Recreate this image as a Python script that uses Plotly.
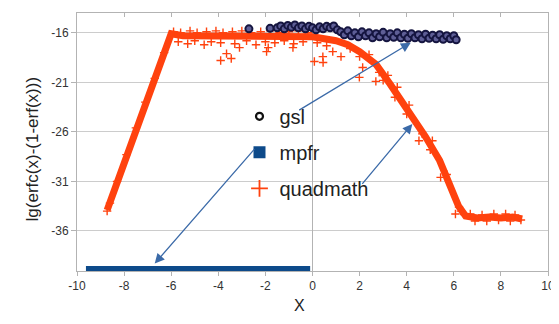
import plotly.graph_objects as go

# ---------------- data ----------------
# quadmath: centre line of the dense band of points
quad_band_x = [-8.72, -6.0, -5.5, -4.0, -2.0, 0.0, 1.0, 1.5, 2.0, 2.7, 3.3, 3.8, 4.25,
               4.8, 5.4, 5.9, 6.2, 6.5, 7.0, 7.5, 8.0, 8.5, 8.9]
quad_band_y = [-33.9, -16.1, -16.3, -16.35, -16.3, -16.4, -16.8, -17.2, -17.9, -19.2, -21.2,
               -22.9, -24.6, -26.5, -28.9, -31.8, -33.5, -34.5, -34.7, -34.6, -34.7, -34.6, -34.8]

# quadmath: individual scattered points
quad_x = [-8.72, -8.6, -8.3, -7.9, -7.5, -7.1, -6.7, -6.3,
          -5.9, -5.6, -5.2, -4.9, -4.5, -4.1, -3.8, -3.4, -3.0, -2.6, -2.2, -1.8, -1.4, -1.0, -0.6, -0.2,
          -5.7, -5.3, -5.0, -4.6, -4.3, -3.9, -3.3, -2.8, -2.4, -2.0, -1.6, -1.2, -0.8, -0.4, 0.2, 0.6,
          -3.9, -3.65, -3.45, -3.1, -1.95, -1.88, -0.83, 0.08, 0.44, 0.45, 0.86, 1.21,
          1.6, 2.0, 2.13, 1.99, 2.69, 2.83, 2.4, 3.0, 3.2, 3.5, 3.6, 4.0, 4.1, 4.52, 4.66, 5.09, 5.0,
          5.44, 5.7, 6.22, 6.07, 6.3,
          6.7, 6.9, 7.2, 7.4, 7.7, 7.9, 8.2, 8.4, 8.6, 8.85]
quad_y = [-34.0, -33.2, -31.0, -28.3, -25.6, -23.0, -20.6, -18.0,
          -15.9, -16.0, -15.8, -16.0, -15.9, -15.8, -16.0, -15.9, -15.8, -16.0, -15.9, -15.8, -16.0, -15.9, -15.8, -16.0,
          -16.9, -17.1, -16.8, -17.2, -16.9, -17.0, -17.1, -16.8, -17.2, -16.9, -17.0, -16.8, -17.1, -16.9, -17.0, -17.3,
          -18.8, -18.1, -18.6, -17.5, -17.9, -17.5, -17.5, -18.9, -18.4, -19.0, -17.9, -18.4,
          -17.6, -18.4, -19.5, -20.5, -20.9, -20.0, -18.2, -20.8, -20.3, -22.5, -21.5, -24.2, -23.3, -26.9, -26.2, -26.9, -27.8,
          -30.6, -30.3, -33.6, -34.3, -34.0,
          -34.3, -35.0, -34.4, -35.0, -34.3, -34.9, -34.3, -35.0, -34.4, -34.9]

# gsl
gsl_x = [-2.7, -1.8, -1.5, -1.35, -1.2, -1.05, -0.9, -0.75, -0.6, -0.45, -0.3, -0.15, 0.0,
         0.15, 0.3, 0.45, 0.6, 0.75, 0.9, 1.05, 1.2, 1.35, 1.5, 1.65, 1.8, 1.95, 2.1, 2.25,
         2.4, 2.55, 2.7, 2.85, 3.0, 3.15, 3.3, 3.45, 3.6, 3.75, 3.9, 4.05, 4.2, 4.35, 4.5,
         4.65, 4.8, 4.95, 5.1, 5.25, 5.4, 5.55, 5.7, 5.85, 6.0, 6.1]
gsl_y = [-15.6, -15.55, -15.5, -15.3, -15.6, -15.25, -15.45, -15.2, -15.5, -15.3, -15.6, -15.35, -15.5,
         -15.7, -15.4, -15.6, -15.35, -15.5, -15.3, -15.7, -15.9, -16.2, -15.8, -16.3, -16.0, -16.4, -15.9, -16.3,
         -16.0, -16.5, -16.1, -16.4, -15.95, -16.5, -16.1, -16.45, -16.0, -16.5, -16.15, -16.55, -16.1, -16.5, -16.2,
         -16.6, -16.15, -16.55, -16.25, -16.6, -16.2, -16.65, -16.3, -16.6, -16.3, -16.7]

# mpfr
mpfr_x = [-9.62, -8.0, -6.0, -4.0, -2.0, -0.1]
mpfr_y = [-39.8, -39.8, -39.8, -39.8, -39.8, -39.8]

x_ticks = [-10, -8, -6, -4, -2, 0, 2, 4, 6, 8, 10]
y_ticks = [-16, -21, -26, -31, -36]

QUAD = "#ff420e"
MPFR = "#0d4a8a"
ARROW = "#3b6aa8"
GRID = "#b3b3b3"

fig = go.Figure()

# dense bands
fig.add_trace(go.Scatter(x=quad_band_x, y=quad_band_y, mode="lines",
                         line=dict(color=QUAD, width=7), showlegend=False, hoverinfo="skip"))
fig.add_trace(go.Scatter(x=mpfr_x, y=mpfr_y, mode="lines",
                         line=dict(color=MPFR, width=5), showlegend=False, hoverinfo="skip"))

fig.add_trace(go.Scatter(x=quad_x, y=quad_y, mode="markers", showlegend=False,
                         marker=dict(symbol="cross-thin", size=6, line=dict(color=QUAD, width=1.4))))
fig.add_trace(go.Scatter(x=gsl_x, y=gsl_y, mode="markers", showlegend=False,
                         marker=dict(symbol="circle", size=7, color="#5e5e96",
                                     line=dict(color="#151540", width=2))))

# legend entries
fig.add_trace(go.Scatter(x=[None], y=[None], mode="markers", name="gsl", legendgroup="a",
                         marker=dict(symbol="circle", size=7, color="#ffffff",
                                     line=dict(color="#111111", width=2.2))))
fig.add_trace(go.Scatter(x=[None], y=[None], mode="markers", name="mpfr", legendgroup="b",
                         marker=dict(symbol="square", size=12, color=MPFR)))
fig.add_trace(go.Scatter(x=[None], y=[None], mode="markers", name="quadmath", legendgroup="c",
                         xaxis="x2",
                         marker=dict(symbol="cross-thin", size=12, line=dict(color=QUAD, width=1.8))))

arrows = [
    (4.17, -17.0, -0.63, -23.9),
    (-6.7, -39.3, -2.41, -27.6),
    (4.24, -25.2, 2.06, -31.4),
]
for hx, hy, tx, ty in arrows:
    fig.add_annotation(x=hx, y=hy, ax=tx, ay=ty, xref="x", yref="y", axref="x", ayref="y",
                       text="", showarrow=True, arrowhead=2, arrowsize=1.5, arrowwidth=1.3,
                       arrowcolor=ARROW, standoff=0, startstandoff=0)

fig.add_annotation(text="X", xref="paper", yref="paper", x=0.4715, y=-0.174,
                   showarrow=False, font=dict(size=16, color="#222222"))
fig.add_annotation(text="lg(erfc(x)-(1-erf(x)))", xref="paper", yref="paper",
                   x=-0.118, y=0.471, textangle=-90, showarrow=False,
                   font=dict(size=17, color="#222222"))

# page body has an 8px default margin, so the figure is 8px smaller than the window
fig.update_layout(
    width=551, height=316,
    margin=dict(l=69, r=9, t=4, b=53),
    paper_bgcolor="white", plot_bgcolor="white",
    font=dict(family="Liberation Sans, Arial, sans-serif", color="#333333", size=12),
    legend=dict(x=0.345, y=0.675, xanchor="left", yanchor="top",
                bgcolor="rgba(0,0,0,0)", tracegroupgap=7,
                font=dict(size=20, color="#222222")),
    xaxis=dict(range=[-10, 10], tickvals=x_ticks, ticktext=[str(v) for v in x_ticks],
               showgrid=False, zeroline=True, zerolinecolor=GRID, zerolinewidth=1,
               showline=True, linecolor=GRID, mirror=True,
               ticks="outside", ticklen=4, tickcolor=GRID),
    xaxis2=dict(range=[-10, 10], tickvals=x_ticks, overlaying="x", side="top",
                showticklabels=False, showgrid=False, zeroline=False, showline=False,
                ticks="inside", ticklen=4, tickcolor=GRID),
    yaxis=dict(range=[-40.05, -14.0], tickvals=y_ticks, ticktext=[str(v) for v in y_ticks],
               showgrid=True, gridcolor="#cccccc", zeroline=False,
               showline=True, linecolor=GRID, mirror=True,
               ticks="outside", ticklen=5, tickcolor=GRID),
)

fig.write_html("out.html")
